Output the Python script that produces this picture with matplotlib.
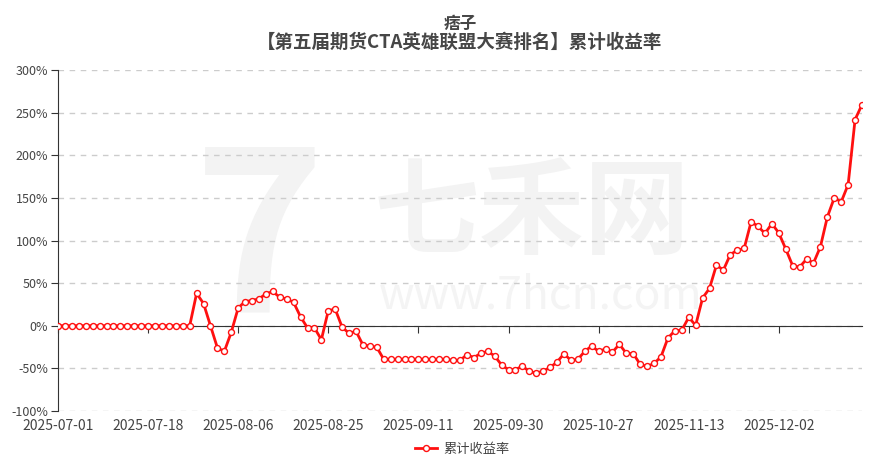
import matplotlib
matplotlib.use("Agg")
import matplotlib.pyplot as plt
import pandas as pd

plt.rcParams['font.family'] = ['Noto Sans CJK SC', 'DejaVu Sans']

# trading days (china futures), national holiday 10-01..10-08 closed
holidays = ["2025-10-01", "2025-10-02", "2025-10-03", "2025-10-06", "2025-10-07", "2025-10-08"]
days = pd.bdate_range("2025-07-01", "2025-12-18")
days = [d.strftime("%Y-%m-%d") for d in days if d.strftime("%Y-%m-%d") not in holidays]

# cumulative return, %
returns = [
    0, 0, 0, 0, 0, 0, 0, 0, 0, 0, 0, 0, 0, 0, 0, 0, 0, 0, 0, 0,
    38, 26, 0, -26, -30, -7.6, 21, 28.4, 29.6, 31.6,
    37.4, 40.2, 33.2, 31.6, 27.3, 10.4, -2.5, -2.5, -16.3, 17.8,
    19.4, -1.8, -8.8, -6.5, -22.6, -23.7, -25.3, -39.4, -39.4, -39.4,
    -39.4, -39.4, -39.4, -39.4, -39.4, -39.4, -39.4, -40.6, -40.6, -34,
    -37.3, -32.4, -30, -35.5, -46, -51.5, -51.5, -47.3, -53.6, -55.5,
    -53.2, -48.9, -42.6, -32.8, -40.6, -39.4, -30, -23.8, -30, -27.3,
    -30.8, -21.8, -32.4, -32.8, -45.3, -47.7, -44.2, -36.4, -14.4, -5.8,
    -5.3, 9.9, 0.5, 32.5, 43.9, 71.2, 65.3, 83.5, 88.6, 90.7,
    122, 116.6, 108.3, 119.8, 108.8, 90, 70.4, 68.8, 78.2, 73.5,
    92.7, 127.6, 150, 145.3, 165.6, 241.8, 259.4,
]

title = "痞子"
subtitle = "【第五届期货CTA英雄联盟大赛排名】累计收益率"
series_name = "累计收益率"
yticks = [-100, -50, 0, 50, 100, 150, 200, 250, 300]

fig = plt.figure(figsize=(8.89, 4.65), dpi=100)
ax = fig.add_axes([58 / 889, 1 - 411 / 465, 804 / 889, 341 / 465])

# watermark
ax.text(0.59, 0.575, "七禾网", transform=ax.transAxes, fontsize=76, color="#f3f3f3",
        ha="center", va="center", fontweight="bold", zorder=0)
ax.text(0.6, 0.34, "www.7hcn.com", transform=ax.transAxes, fontsize=32, color="#f4f4f4",
        ha="center", va="center", zorder=0)
ax.text(0.25, 0.48, "7", transform=ax.transAxes, fontsize=160, color="#f3f3f3",
        ha="center", va="center", fontweight="bold", style="italic", zorder=0)

x = list(range(len(days)))
ax.plot(x, returns, color="#ff1010", linewidth=2, marker="o", markersize=4.3,
        markerfacecolor="white", markeredgecolor="#ff1010", markeredgewidth=1,
        label=series_name, zorder=4)

ax.set_xlim(0, len(days) - 1)
ax.set_ylim(-100, 300)
ax.set_yticks(yticks)
ax.set_yticklabels([f"{v}%" for v in yticks], fontsize=9, color="#444444")
ax.yaxis.grid(True, linestyle=(0, (4, 4)), color="#cccccc", linewidth=1)
ax.set_axisbelow(True)

for s in ["top", "right"]:
    ax.spines[s].set_visible(False)
ax.spines["left"].set_color("#333333")
ax.spines["bottom"].set_position(("data", 0))
ax.spines["bottom"].set_color("#333333")
ax.spines["bottom"].set_zorder(3)

tick_idx = list(range(0, len(days), 13))
ax.set_xticks(tick_idx)
ax.tick_params(axis="x", direction="out", length=5, color="#333333", labelbottom=False)
ax.tick_params(axis="y", direction="out", length=5, color="#333333", pad=2)

sec = ax.secondary_xaxis("bottom")
sec.spines["bottom"].set_visible(False)
sec.set_xticks(tick_idx)
sec.set_xticklabels([days[i] for i in tick_idx], fontsize=10, color="#444444")
sec.tick_params(length=0, pad=5.5)

cx = (58 + 862) / 2 / 889
fig.text(cx, 1 - 24 / 465, title, ha="center", va="center", fontsize=12,
         fontweight="bold", color="#464646")
fig.text(cx, 1 - 42.5 / 465, subtitle, ha="center", va="center", fontsize=13.3,
         fontweight="bold", color="#464646")

fig.legend(loc="center", bbox_to_anchor=(0.52, 1 - 449 / 465), frameon=False,
           fontsize=9.5, handlelength=1.7, handletextpad=0.45, labelcolor="#444444")

fig.savefig("out.png", dpi=100)
